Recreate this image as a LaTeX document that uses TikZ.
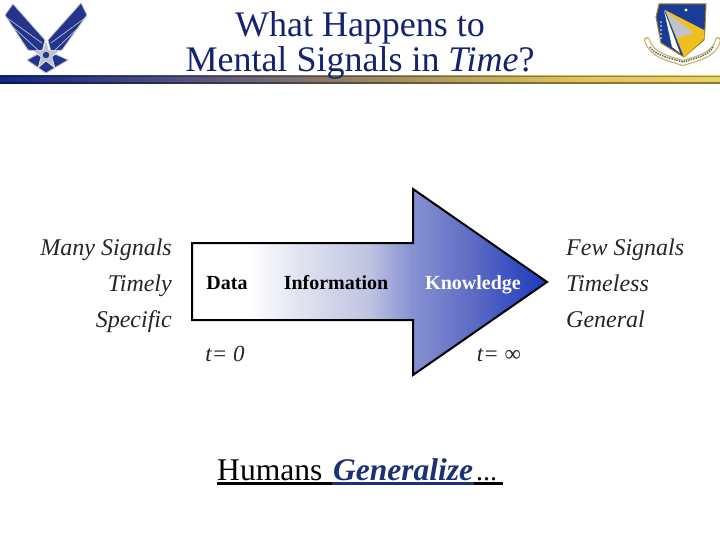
\documentclass[tikz,border=0pt]{standalone}
\usepackage{fontspec}
\setmainfont{Liberation Serif}
\definecolor{navy}{RGB}{20,35,110}
\definecolor{wingblue}{RGB}{34,52,140}
\definecolor{arrowblue}{RGB}{28,56,190}
\definecolor{genblue}{RGB}{28,48,120}
\definecolor{steel}{RGB}{190,195,205}
\definecolor{shieldblue}{RGB}{25,60,150}
\definecolor{shieldgold}{RGB}{240,190,30}
\definecolor{scrolltan}{RGB}{200,175,100}
\definecolor{fadeA}{RGB}{225,228,240}
\definecolor{fadeB}{RGB}{190,195,225}
\definecolor{fadeC}{RGB}{135,145,210}
\definecolor{fadeD}{RGB}{90,105,195}
\definecolor{barA}{RGB}{18,38,135}
\definecolor{barB}{RGB}{95,90,125}
\definecolor{barC}{RGB}{165,145,95}
\definecolor{barD}{RGB}{225,195,90}
\definecolor{barE}{RGB}{235,210,100}
\pgfdeclarehorizontalshading{arrowfade}{100bp}{
  color(0bp)=(white); color(33bp)=(white); color(40bp)=(fadeA); color(50bp)=(fadeB);
  color(56bp)=(fadeC); color(65bp)=(fadeD); color(75bp)=(arrowblue); color(100bp)=(arrowblue)}
\pgfdeclarehorizontalshading{barfade}{100bp}{
  color(0bp)=(barA); color(25bp)=(barA); color(40bp)=(barB); color(53bp)=(barC);
  color(65bp)=(barD); color(75bp)=(barE); color(100bp)=(barE)}
\tikzset{
  titletext/.style={font=\fontsize{36}{35}\selectfont,text=navy,align=center},
  sidetext/.style={font=\fontsize{24}{36}\selectfont\itshape,text=black!85,inner sep=0pt},
  boxtext/.style={font=\fontsize{20}{22}\selectfont\bfseries,anchor=base,inner sep=0pt},
  timetext/.style={font=\fontsize{23}{26}\selectfont\itshape,text=black!85,anchor=base,inner sep=0pt},
  wing/.style={fill=wingblue,draw=steel,line width=.8pt,line join=round},
  rulebar/.style={line width=3.2pt}
}
\begin{document}
\begin{tikzpicture}[x=1pt,y=-1pt]
  \useasboundingbox (0,0) rectangle (720,540);
  % top bar
  \shade[shading=barfade] (0,76) rectangle (720,84);
  \fill[black,opacity=.35] (0,76) rectangle (720,77);
  \fill[black,opacity=.4] (0,82) rectangle (720,84);
  % title
  \node[titletext] (title) at (360,45.5) {What Happens to\\Mental Signals in \textit{Time}?};
  % air force wings
  \draw[wing] (13,4)--(5,15)--(28,50)--(42,52)--(45,40)--cycle;
  \draw[wing] (81,3)--(87,15)--(62,50)--(51,52)--(48,40)--cycle;
  \draw[steel,line width=.7pt] (7,18)--(42,43) (14,28)--(38,50) (85,18)--(51,43) (78,28)--(55,50);
  \draw[wing] (27,60)--(46,73)--(68,60)--(55,54)--(38,54)--cycle;
  \fill[steel,draw=white,line width=.4pt] (46,40)--(49,50)--(59,51)--(52,57)--(55,68)--(46,61)--(38,68)--(41,57)--(33,51)--(43,50)--cycle;
  \fill[wingblue] (46,55) circle (3.2);
  % shield
  \draw[scrolltan,line width=6pt,line cap=round] (647,40) .. controls (652,56) and (668,58) .. (683,63) .. controls (698,58) and (714,56) .. (718,40);
  \draw[white,line width=3.6pt,line cap=round] (647,40) .. controls (652,56) and (668,58) .. (683,63) .. controls (698,58) and (714,56) .. (718,40);
  \draw[black!60,line width=1.5pt,densely dotted] (650,47) .. controls (656,56) and (670,58) .. (683,62) .. controls (696,58) and (708,56) .. (713,47);
  \draw[shieldgold!70!black,fill=shieldblue,line width=1pt] (659,4)--(706,4)--(705,28)--(704,40)--(684,57)--(661,43)--(656,17)--cycle;
  \fill[shieldgold] (665,10)--(704,30)--(704,39)--(684,57)--cycle;
  \fill[steel] (666,12)--(694,33)--(677,38)--cycle;
  \fill[white] (664,10)--(680,53)--(672,47)--cycle;
  \fill[white] (686,10) circle (1.6);
  \foreach \ypos in {22,26,30,34,38}
    \fill[white] (661,\ypos) circle (.8);
  % arrow
  \shade[shading=arrowfade,draw=black,line width=2pt,miter limit=10]
    (192,243)--(413,243)--(413,189)--(547,282)--(413,375)--(413,320)--(192,320)--cycle;
  \node[boxtext] (data) at (227,289) {Data};
  \node[boxtext] (info) at (336,289) {Information};
  \node[boxtext,text=white] (know) at (473,289) {Knowledge};
  \node[timetext] (tzero) at (225,361) {t= 0};
  \node[timetext] (tinf) at (499,361) {t= \textup{∞}};
  % side texts
  \node[sidetext,anchor=base east] (many) at (172,255) {Many Signals};
  \node[sidetext,anchor=base east] (timely) at (172,291) {Timely};
  \node[sidetext,anchor=base east] (spec) at (172,327) {Specific};
  \node[sidetext,anchor=base west] (few) at (566,255) {Few Signals};
  \node[sidetext,anchor=base west] (timeless) at (566,291) {Timeless};
  \node[sidetext,anchor=base west] (gen) at (566,327) {General};
  % bottom line
  \node[font=\fontsize{31.6}{32}\selectfont,anchor=base west,inner sep=0pt] (humans) at (217,480) {Humans};
  \node[font=\fontsize{31.5}{32}\selectfont\bfseries\itshape,text=genblue,anchor=base west,inner sep=0pt] (generalize) at (333,480) {Generalize};
  \node[font=\fontsize{28}{30}\selectfont,anchor=base west,inner sep=0pt] (dots) at (476,480) {...};
  \draw[rulebar] (217,483.5)--(332,483.5);
  \draw[rulebar,genblue] (332,483.5)--(474,483.5);
  \draw[rulebar] (474,483.5)--(503,483.5);
\end{tikzpicture}
\end{document}
